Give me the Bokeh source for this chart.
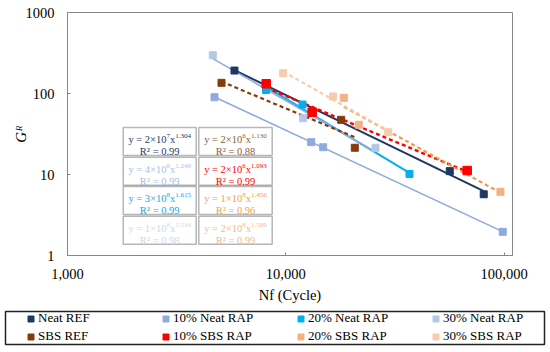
import numpy as np
from bokeh.plotting import figure
from bokeh.models import (Range1d, FixedTicker, Legend, LegendItem, Label,
                          BoxAnnotation)
from bokeh.embed import file_html
from bokeh.resources import INLINE

# ---------------- data ----------------
series = ["Neat REF", "10% Neat RAP", "20% Neat RAP", "30% Neat RAP",
          "SBS REF", "10% SBS RAP", "20% SBS RAP", "30% SBS RAP"]

nf_neat_ref = [5820, 56400, 80700]
g_neat_ref = [192, 11.0, 5.7]
nf_neat_10 = [4715, 13080, 14840, 98600]
g_neat_10 = [90.0, 25.1, 21.7, 1.96]
nf_neat_20 = [8120, 11930, 36870]
g_neat_20 = [110.5, 73.1, 10.15]
nf_neat_30 = [4630, 12020, 25760]
g_neat_30 = [297, 49.5, 21.4]
nf_sbs_ref = [5075, 17940, 20710]
g_sbs_ref = [135.5, 47.3, 21.4]
nf_sbs_10 = [8135, 13210, 67770]
g_sbs_10 = [131.8, 58.8, 11.2]
nf_sbs_20 = [18440, 21600, 96270]
g_sbs_20 = [88.5, 41.1, 6.11]
nf_sbs_30 = [9730, 16490, 29450]
g_sbs_30 = [178, 91.8, 33.3]

eq_coef = ["2", "4", "3", "1", "2", "2", "1", "2"]
eq_pow10 = ["7", "6", "8", "8", "6", "6", "8", "8"]
eq_exp = ["1.304", "1.249", "1.615", "1.534", "1.130", "1.093", "1.456", "1.509"]
eq_r2 = ["0.99", "0.99", "0.99", "0.98", "0.88", "0.99", "0.96", "0.99"]

x_ticks = [1000, 10000, 100000]
x_tick_labels = ["1,000", "10,000", "100,000"]
y_ticks = [1, 10, 100, 1000]
y_tick_labels = ["1", "10", "100", "1000"]
x_label = "Nf (Cycle)"
y_label = "G\u1D3F"

# ---------------- styles ----------------
nf_all = [nf_neat_ref, nf_neat_10, nf_neat_20, nf_neat_30,
          nf_sbs_ref, nf_sbs_10, nf_sbs_20, nf_sbs_30]
g_all = [g_neat_ref, g_neat_10, g_neat_20, g_neat_30,
         g_sbs_ref, g_sbs_10, g_sbs_20, g_sbs_30]
marker_colors = ["#1F3864", "#8FAADC", "#00B0F0", "#B4C7E7",
                 "#843C0C", "#FF0000", "#F4B183", "#F8CBAD"]
line_colors = ["#1F3864", "#8FAADC", "#00B0F0", "#8FAADC",
               "#843C0C", "#FF0000", "#F39A3E", "#F8CBAD"]
line_widths = [2, 1.6, 2, 1.6, 2.2, 2.4, 2.2, 2.2]
line_dashes = ["solid"] * 4 + ["4 3"] * 4
marker_sizes = [7, 7, 7, 7, 7, 8.5, 7, 7]
text_colors = ["#1F3864", "#A9BEE6", "#00B0F0", "#CCD8EE",
               "#8B5A3A", "#FF0000", "#F4A04C", "#F4B88E"]

FONT = "Liberation Serif"

p = figure(width=550, height=306, x_axis_type="log", y_axis_type="log",
           x_range=Range1d(1000, 109300), y_range=Range1d(1, 1000),
           output_backend="svg", toolbar_location=None,
           min_border_left=67, min_border_right=38,
           min_border_top=12, min_border_bottom=51)
p.background_fill_color = "white"
p.border_fill_color = "white"
p.outline_line_color = "#868686"
p.outline_line_width = 1
p.grid.visible = False

for ax, ticks, labels in ((p.xaxis[0], x_ticks, x_tick_labels),
                          (p.yaxis[0], y_ticks, y_tick_labels)):
    ax.ticker = FixedTicker(ticks=ticks, minor_ticks=[])
    ax.major_label_overrides = {t: l for t, l in zip(ticks, labels)}
    ax.axis_line_color = "#868686"
    ax.major_tick_line_color = "#868686"
    ax.major_tick_in = 3
    ax.major_tick_out = 0
    ax.minor_tick_line_color = None
    ax.major_label_text_font = FONT
    ax.major_label_text_font_size = "14.5px"
    ax.major_label_text_color = "#000000"
    ax.axis_label_text_font = FONT
    ax.axis_label_text_font_size = "14.5px"
    ax.axis_label_text_color = "#000000"

p.yaxis.major_label_standoff = 13
p.xaxis.major_label_standoff = 13
p.xaxis.axis_label = x_label
p.xaxis.axis_label_text_font_style = "normal"
p.xaxis.axis_label_standoff = 5
p.yaxis.axis_label = y_label
p.yaxis.axis_label_text_font_style = "italic"
p.yaxis.axis_label_text_font_size = "15px"
p.yaxis.axis_label_standoff = -6

# trendlines (power fit in log-log)
for i in range(8):
    lx = np.log10(nf_all[i])
    ly = np.log10(g_all[i])
    b, a = np.polyfit(lx, ly, 1)
    xs = np.array([min(nf_all[i]), max(nf_all[i])], dtype=float)
    ys = 10 ** (a + b * np.log10(xs))
    p.line(xs, ys, line_color=line_colors[i], line_width=line_widths[i],
           line_dash=line_dashes[i])

for i in range(8):
    p.scatter(nf_all[i], g_all[i], marker="square", size=marker_sizes[i],
              fill_color=marker_colors[i], line_color=marker_colors[i])

# ---------- equation boxes (screen units relative to the frame) ----------
FL, FB = 67, 255
def fx(px):
    return px - FL
def fy(py):
    return FB - py

W = {str(d): 500 for d in range(10)}
W.update({" ": 250, "=": 564, "×": 564, "y": 500, "x": 500, ".": 250})
def tw(s, size):
    return sum(W.get(c, 500) for c in s) / 1000.0 * size

BASE, SUP = 10.5, 7.0
col_l = [122.7, 198.3]
col_r = [195.7, 271.7]
row_t = [127, 156.7, 186, 215.7]
BOX_H = 28
for i in range(8):
    c = i // 4
    r = i % 4
    L, R = col_l[c], col_r[c]
    T = row_t[r]
    p.add_layout(BoxAnnotation(left=fx(L), right=fx(R), top=fy(T), bottom=fy(T + BOX_H),
                               left_units="screen", right_units="screen",
                               top_units="screen", bottom_units="screen",
                               fill_color="white", fill_alpha=1,
                               line_color="#111111", line_width=1.5))
    segs = [("y = " + eq_coef[i] + "×10", BASE, 0),
            (eq_pow10[i], SUP, 3.8),
            ("x", BASE, 0),
            (eq_exp[i], SUP, 3.8)]
    total = sum(tw(s, sz) for s, sz, _ in segs)
    cx = (L + R) / 2
    x0 = cx - total / 2
    base_y = T + 12.3
    for s, sz, rise in segs:
        p.add_layout(Label(x=fx(x0), y=fy(base_y - rise), x_units="screen",
                           y_units="screen", text=s, text_align="left",
                           text_baseline="alphabetic", text_font=FONT,
                           text_font_size=f"{sz}px", text_color=text_colors[i]))
        x0 += tw(s, sz)
    p.add_layout(Label(x=fx(cx), y=fy(T + 24), x_units="screen", y_units="screen",
                       text="R² = " + eq_r2[i], text_align="center",
                       text_baseline="alphabetic", text_font=FONT,
                       text_font_size=f"{BASE}px", text_color=text_colors[i]))

# ---------- legend panel (separate root, placed under the chart) ----------
lg = figure(width=550, height=46, x_range=Range1d(0, 1), y_range=Range1d(0, 1),
            output_backend="svg", toolbar_location=None,
            x_axis_location=None, y_axis_location=None,
            min_border_left=5, min_border_right=6,
            min_border_top=5, min_border_bottom=8)
lg.grid.visible = False
lg.outline_line_color = "#222222"
lg.outline_line_width = 1.5
lg.background_fill_color = "white"
lg.border_fill_color = "white"

items = []
for i in range(8):
    # same series data; the legend panel's ranges keep the points out of view
    r = lg.scatter(nf_all[i], g_all[i], marker="square", size=7,
                   fill_color=marker_colors[i], line_color=marker_colors[i])
    items.append(LegendItem(label=series[i], renderers=[r]))
legend = Legend(items=items, orientation="horizontal", ncols=4,
                location=(18, 0),
                glyph_width=15, glyph_height=15, label_standoff=0,
                label_width=118, label_height=15, spacing=2, padding=0, margin=0,
                label_text_font=FONT, label_text_font_size="13px",
                label_text_color="#000000",
                border_line_color=None, background_fill_alpha=0)
lg.add_layout(legend)

open("out.html", "w").write(file_html([p, lg], INLINE))
